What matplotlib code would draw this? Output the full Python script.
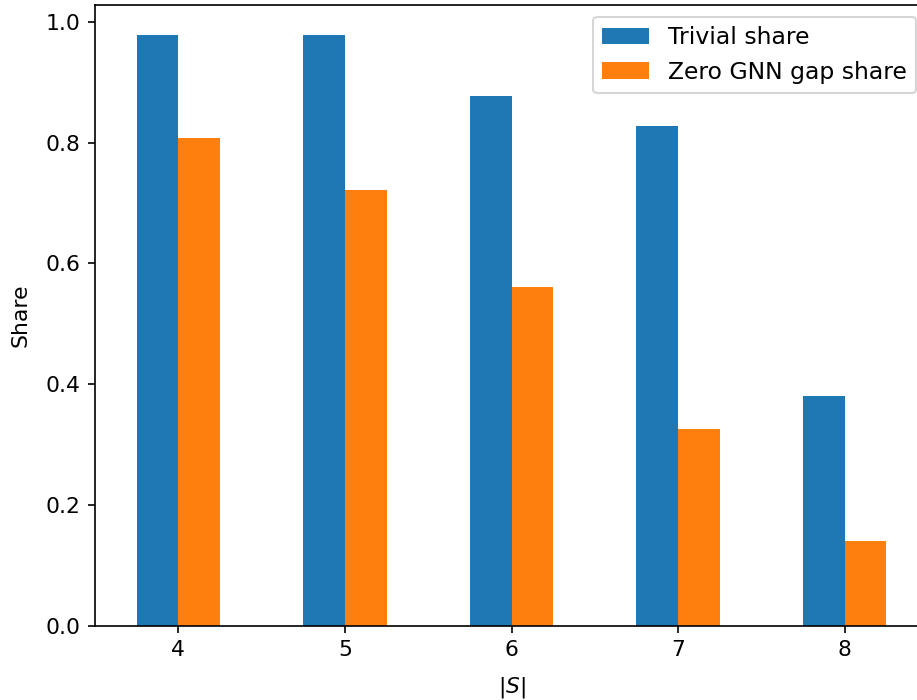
import numpy as np
import matplotlib.pyplot as plt

# share of trivial instances and of zero-gap instances per subset size
sizes = [4, 5, 6, 7, 8]
trivial_share = [0.979, 0.979, 0.878, 0.827, 0.381]
zero_gap_share = [0.807, 0.721, 0.561, 0.326, 0.140]

dpi = 150
fig = plt.figure(figsize=(917 / dpi, 700 / dpi), dpi=dpi)
ax = fig.add_axes([95 / 917, (700 - 625.5) / 700, (928 - 95) / 917, (625.5 - 5) / 700])

x = np.arange(len(sizes))
w = 0.25
ax.bar(x - w / 2, trivial_share, w, color="C0", label="Trivial share")
ax.bar(x + w / 2, zero_gap_share, w, color="C1", label="Zero GNN gap share")

ax.set_xticks(x)
ax.set_xticklabels([str(s) for s in sizes])
ax.set_xlim(-0.5, len(sizes) - 0.5)
ax.tick_params(labelsize=10.5)
ax.set_xlabel("$|S|$", fontsize=10.5, labelpad=7)
ax.set_ylabel("Share", fontsize=10.5, labelpad=7)
ax.legend(loc="upper right", fontsize=11.25)

fig.savefig("out.png", dpi=dpi)
